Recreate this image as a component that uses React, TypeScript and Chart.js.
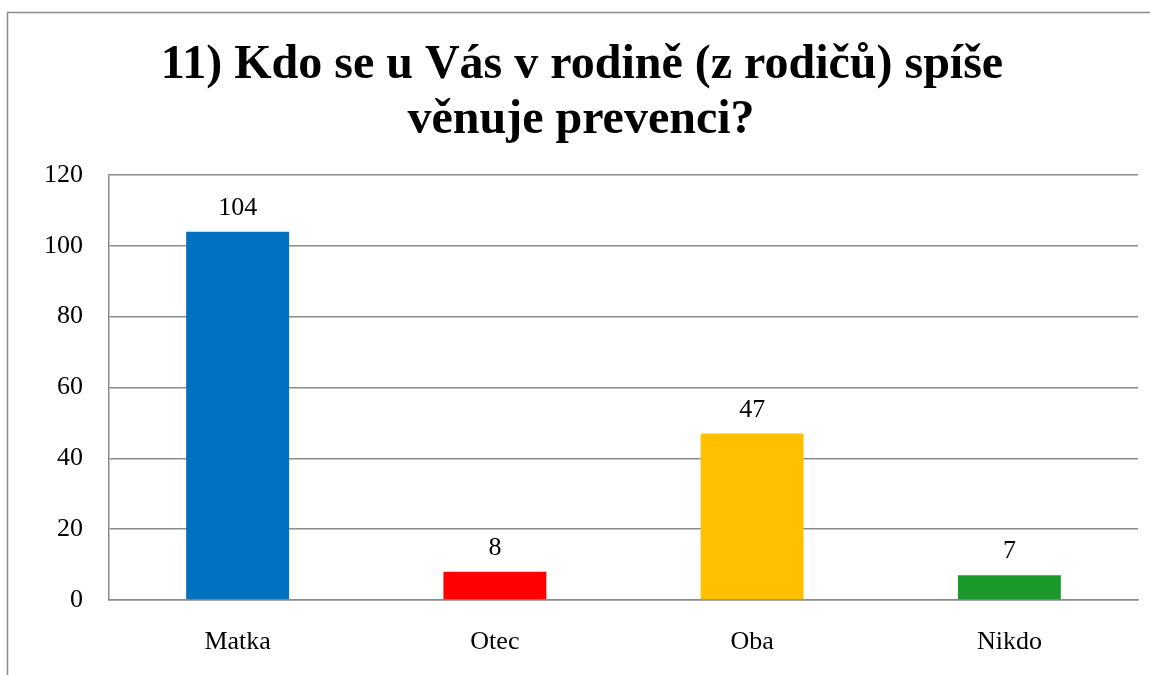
import React, { useEffect, useRef } from "react";
import { Chart, registerables } from "chart.js";

Chart.register(...registerables);

const categories = ["Matka", "Otec", "Oba", "Nikdo"];
const values = [104, 8, 47, 7];
const barColors = ["#0070C0", "#FF0000", "#FFC000", "#1A9A2A"];
const titleLines = ["11) Kdo se u Vás v rodině (z rodičů) spíše", "věnuje prevenci?"];
const yMin = 0;
const yMax = 120;
const yStep = 20;

const FONT = "'Liberation Serif', 'Times New Roman', serif";

const framePlugin = {
  id: "frameAndTitle",
  beforeDraw(chart: any) {
    const ctx = chart.ctx;
    ctx.save();
    ctx.fillStyle = "#ffffff";
    ctx.fillRect(0, 0, chart.width, chart.height);
    ctx.strokeStyle = "#8c8c8c";
    ctx.lineWidth = 1.5;
    ctx.beginPath();
    ctx.moveTo(7.5, chart.height);
    ctx.lineTo(7.5, 12.5);
    ctx.lineTo(chart.width, 12.5);
    ctx.stroke();
    ctx.restore();
  },
  afterDraw(chart: any) {
    const ctx = chart.ctx;
    ctx.save();
    ctx.fillStyle = "#000000";
    ctx.font = `bold 48px ${FONT}`;
    ctx.textAlign = "center";
    ctx.textBaseline = "alphabetic";
    ctx.fillText(titleLines[0], 582, 78);
    ctx.fillText(titleLines[1], 581, 133);
    ctx.restore();
  },
};

const valueLabelPlugin = {
  id: "valueLabels",
  afterDatasetsDraw(chart: any) {
    const ctx = chart.ctx;
    const meta = chart.getDatasetMeta(0);
    ctx.save();
    ctx.fillStyle = "#000000";
    ctx.font = `26px ${FONT}`;
    ctx.textAlign = "center";
    ctx.textBaseline = "alphabetic";
    meta.data.forEach((bar: any, i: number) => {
      ctx.fillText(String(chart.data.datasets[0].data[i]), bar.x, bar.y - 17);
    });
    ctx.restore();
  },
};

export default function App() {
  const ref = useRef<HTMLCanvasElement | null>(null);

  useEffect(() => {
    if (!ref.current) return;
    const chart = new Chart(ref.current, {
      type: "bar",
      data: {
        labels: categories,
        datasets: [
          {
            data: values,
            backgroundColor: barColors,
            borderWidth: 0,
            categoryPercentage: 1,
            barPercentage: 0.4,
          },
        ],
      },
      options: {
        animation: false,
        responsive: false,
        maintainAspectRatio: false,
        layout: { padding: { left: 0, top: 175, right: 12, bottom: 0 } },
        plugins: {
          legend: { display: false },
          title: { display: false },
          tooltip: { enabled: false },
        },
        scales: {
          x: {
            grid: { display: false, drawTicks: false },
            border: { display: true, color: "#8c8c8c", width: 1.5 },
            ticks: {
              color: "#000000",
              font: { family: FONT, size: 26 },
              padding: 27,
            },
            afterFit(scale: any) {
              scale.height = 75;
            },
          },
          y: {
            min: yMin,
            max: yMax,
            grid: { color: "#8c8c8c", lineWidth: 1.5, drawTicks: false },
            border: { display: true, color: "#8c8c8c", width: 1.5 },
            ticks: {
              stepSize: yStep,
              color: "#000000",
              font: { family: FONT, size: 26 },
              padding: 26,
            },
            afterFit(scale: any) {
              scale.width = 109;
            },
          },
        },
      },
      plugins: [framePlugin, valueLabelPlugin],
    });
    return () => chart.destroy();
  }, []);

  return (
    <div style={{ position: "fixed", left: 0, top: 0, width: 1150, height: 675, background: "#fff" }}>
      <canvas ref={ref} width={1150} height={675} style={{ display: "block" }} />
    </div>
  );
}
